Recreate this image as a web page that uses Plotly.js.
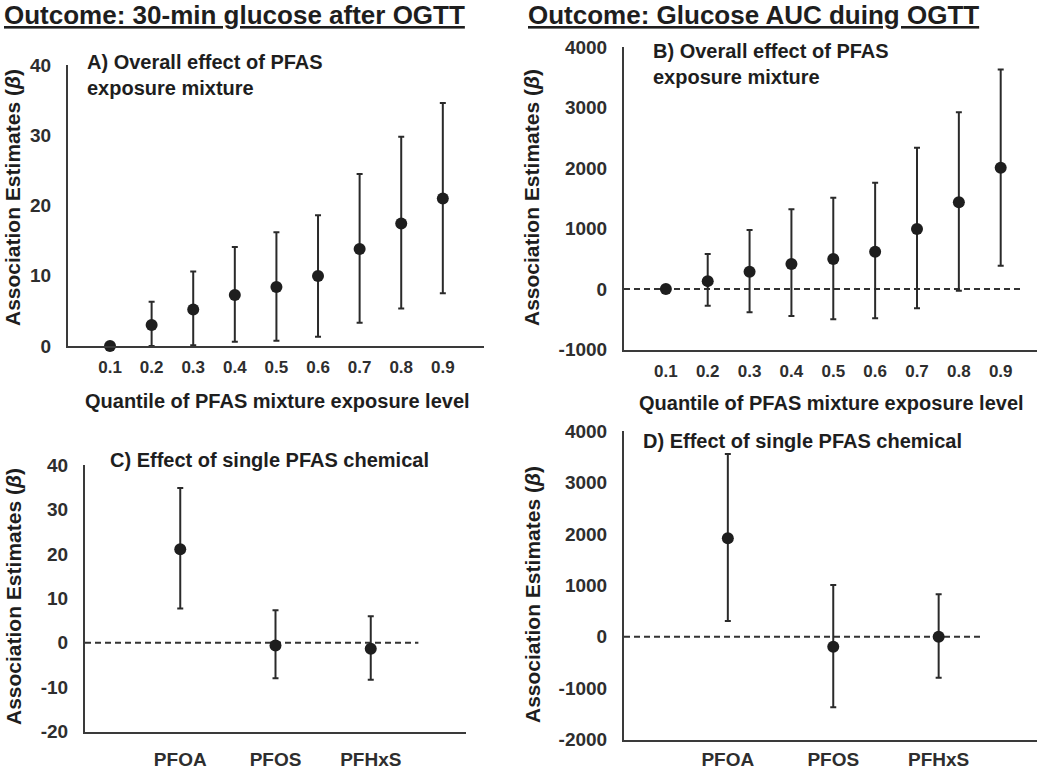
<!DOCTYPE html>
<html>
<head>
<meta charset="utf-8">
<script src="https://cdn.plot.ly/plotly-3.0.1.min.js"></script>
<style>
  body { margin: 0; background: #fff; }
  #plot { width: 1050px; height: 771px; }
</style>
</head>
<body>
<div id="plot"></div>
<script>
var quantiles = ['0.1', '0.2', '0.3', '0.4', '0.5', '0.6', '0.7', '0.8', '0.9'];
var glu30Est = [0, 3.0, 5.2, 7.25, 8.4, 9.95, 13.8, 17.45, 21.0];
var glu30Lo = [0, 0, 0.1, 0.6, 0.75, 1.3, 3.3, 5.35, 7.5];
var glu30Hi = [0, 6.3, 10.6, 14.1, 16.2, 18.6, 24.5, 29.8, 34.6];

var aucEst = [0, 130, 285, 415, 495, 617, 990, 1433, 2005];
var aucLo = [0, -275, -385, -446, -500, -485, -320, -27, 385];
var aucHi = [0, 580, 975, 1317, 1510, 1757, 2335, 2920, 3630];

var chemicals = ['PFOA', 'PFOS', 'PFHxS'];
var chem30Est = [21.06, -0.6, -1.35];
var chem30Lo = [7.7, -8.0, -8.3];
var chem30Hi = [34.8, 7.3, 6.0];
var chemAucEst = [1914, -195, 0];
var chemAucLo = [305, -1374, -798];
var chemAucHi = [3555, 1006, 825];

// tick labels (plain hyphen for negatives, as in the figure)
var ticksA = [0, 10, 20, 30, 40];
var ticksB = [-1000, 0, 1000, 2000, 3000, 4000];
var ticksC = [-20, -10, 0, 10, 20, 30, 40];
var ticksD = [-2000, -1000, 0, 1000, 2000, 3000, 4000];

var W = 1050, H = 771;
var FONT = 'Liberation Sans, Arial, sans-serif';
var INK = '#1e1e1e';
var AXIS = '#3a3a3a';

function px(x) { return x / W; }
function py(y) { return 1 - y / H; }

function diff(a, b) {
  var out = [];
  for (var i = 0; i < a.length; i++) out.push(a[i] - b[i]);
  return out;
}

function pointTrace(x, est, lo, hi, xa, ya) {
  return {
    x: x,
    y: est,
    xaxis: xa,
    yaxis: ya,
    type: 'scatter',
    mode: 'markers',
    cliponaxis: false,
    marker: { size: 12, color: INK },
    error_y: {
      type: 'data',
      symmetric: false,
      array: diff(hi, est),
      arrayminus: diff(est, lo),
      color: '#2a2a2a',
      thickness: 2,
      width: 3,
    },
    showlegend: false,
    hoverinfo: 'x+y',
  };
}

function xAxis(domain, range, anchor, fsize, standoff) {
  return {
    type: 'category',
    domain: domain,
    range: range,
    anchor: anchor,
    showline: true,
    linecolor: AXIS,
    linewidth: 2,
    showgrid: false,
    zeroline: false,
    ticks: '',
    ticklabelstandoff: standoff,
    tickfont: { family: FONT, size: fsize, color: '#2e2e2e', weight: 'bold' },
  };
}

function yAxis(domain, range, vals, anchor) {
  return {
    domain: domain,
    range: range,
    tickmode: 'array',
    tickvals: vals,
    ticktext: vals.map(String),
    anchor: anchor,
    showline: true,
    linecolor: AXIS,
    linewidth: 2,
    showgrid: false,
    zeroline: false,
    ticks: '',
    ticklabelstandoff: 11,
    tickfont: { family: FONT, size: 19, color: '#2e2e2e', weight: 'bold' },
  };
}

function label(text, x, y, size, opts) {
  var a = {
    text: text,
    xref: 'paper',
    yref: 'paper',
    x: px(x),
    y: py(y),
    xanchor: 'left',
    yanchor: 'middle',
    align: 'left',
    showarrow: false,
    font: { family: FONT, size: size, color: INK, weight: 'bold' },
  };
  for (var k in opts) a[k] = opts[k];
  return a;
}

var graphs = [
  pointTrace(quantiles, glu30Est, glu30Lo, glu30Hi, 'x', 'y'),
  pointTrace(quantiles, aucEst, aucLo, aucHi, 'x2', 'y2'),
  pointTrace(chemicals, chem30Est, chem30Lo, chem30Hi, 'x3', 'y3'),
  pointTrace(chemicals, chemAucEst, chemAucLo, chemAucHi, 'x4', 'y4'),
];

var yTitle = 'Association Estimates (<i>β</i>)';
var xTitle = 'Quantile of PFAS mixture exposure level';
var titleFont = { family: FONT, size: 26, color: INK, weight: 'bold', lineposition: 'under' };
var dashLine = { color: '#333', width: 2, dash: '6px,4px' };

var layout = {
  width: W,
  height: H,
  margin: { l: 0, r: 0, t: 0, b: 0 },
  paper_bgcolor: '#ffffff',
  plot_bgcolor: 'rgba(0,0,0,0)',
  showlegend: false,
  xaxis: xAxis([px(68), px(484)], [-1.01, 8.99], 'y', 17, 5),
  yaxis: yAxis([py(346), py(65)], [0, 40], ticksA, 'x'),
  xaxis2: xAxis([px(624), px(1036.7)], [-1.0, 8.86], 'y2', 17, 5),
  yaxis2: yAxis([py(349.5), py(47)], [-1000, 4000], ticksB, 'x2'),
  xaxis3: xAxis([px(85), px(466)], [-1.0, 3.0], 'y3', 19, 9),
  yaxis3: yAxis([py(731.7), py(465)], [-20, 40], ticksC, 'x3'),
  xaxis4: xAxis([px(624), px(1036.7)], [-0.985, 2.93], 'y4', 19, 2),
  yaxis4: yAxis([py(739.5), py(431.1)], [-2000, 4000], ticksD, 'x4'),
  shapes: [
    { type: 'line', xref: 'x2', yref: 'y2', x0: -1.0, x1: 8.5, y0: 0, y1: 0, line: dashLine, layer: 'below' },
    { type: 'line', xref: 'x3', yref: 'y3', x0: -1.0, x1: 2.5, y0: 0, y1: 0, line: dashLine, layer: 'below' },
    { type: 'line', xref: 'x4', yref: 'y4', x0: -0.985, x1: 2.43, y0: 0, y1: 0, line: dashLine, layer: 'below' },
  ],
  annotations: [
    label('Outcome: 30-min glucose after OGTT', 2, 15, 26, { font: titleFont }),
    label('Outcome: Glucose AUC duing OGTT', 526, 15, 26, { font: titleFont }),
    label('A) Overall effect of PFAS<br>exposure mixture', 85, 75, 20),
    label('B) Overall effect of PFAS<br>exposure mixture', 651, 64, 20),
    label('C) Effect of single PFAS chemical', 108, 460, 20),
    label('D) Effect of single PFAS chemical', 641, 441, 20),
    label(xTitle, 277, 401, 20, { xanchor: 'center' }),
    label(xTitle, 831, 403, 20, { xanchor: 'center' }),
    label(yTitle, 13, 198, 21, { xanchor: 'center', textangle: -90 }),
    label(yTitle, 532, 198, 21, { xanchor: 'center', textangle: -90 }),
    label(yTitle, 13, 597, 21, { xanchor: 'center', textangle: -90 }),
    label(yTitle, 532, 595, 21, { xanchor: 'center', textangle: -90 }),
  ],
};

Plotly.newPlot('plot', graphs, layout, { staticPlot: true });
</script>
</body>
</html>
